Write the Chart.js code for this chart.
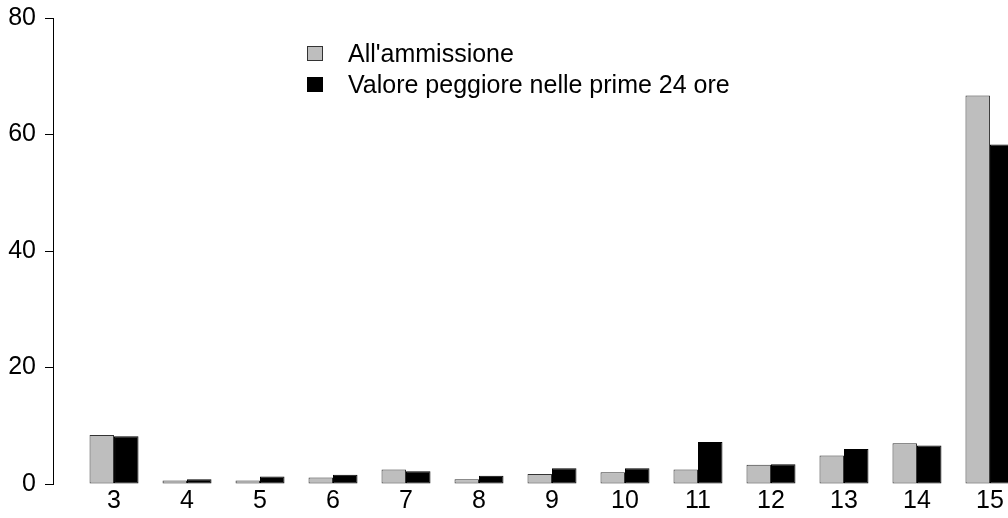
<!DOCTYPE html>
<html>
<head>
<meta charset="utf-8">
<script src="https://cdn.jsdelivr.net/npm/chart.js@4/dist/chart.umd.min.js"></script>
<style>
  html, body { margin: 0; padding: 0; background: #fff; overflow: hidden; }
  #wrap { position: relative; width: 1008px; height: 518px; }
  #legend { position: absolute; left: 307px; top: 38px; font-family: "Liberation Sans", Arial, sans-serif; font-size: 25px; color: #000; }
  .item { position: relative; height: 31px; line-height: 31px; white-space: nowrap; }
  .box { position: absolute; left: 0; top: 8px; width: 16px; height: 15px; box-sizing: border-box; }
  .txt { position: absolute; left: 41px; top: 0; }
</style>
</head>
<body>
<div id="wrap">
  <canvas id="barChart"></canvas>
  <div id="legend"></div>
</div>
<script>
// valori
const groupLabels = [3, 4, 5, 6, 7, 8, 9, 10, 11, 12, 13, 14, 15];
const seriesNames = ["All'ammissione", "Valore peggiore nelle prime 24 ore"];
const admissionValues = [8.4, 0.6, 0.6, 1.1, 2.5, 0.8, 1.7, 2.0, 2.5, 3.3, 4.9, 7.0, 66.7];
const worstValues = [8.2, 0.8, 1.3, 1.6, 2.2, 1.4, 2.7, 2.7, 7.2, 3.4, 6.0, 6.6, 58.3];
const yTicks = [0, 20, 40, 60, 80];

const fontFamily = '"Liberation Sans", Arial, sans-serif';

const toPoints = (vals) => vals.map((v, i) => ({ x: groupLabels[i], y: v }));

const datasets = [
    {
        label: seriesNames[0],
        data: toPoints(admissionValues),
        backgroundColor: '#bebebe',
        borderColor: '#333333',
        borderWidth: 1,
        borderSkipped: false
    },
    {
        label: seriesNames[1],
        data: toPoints(worstValues),
        backgroundColor: '#000000',
        borderColor: '#000000',
        borderWidth: 1,
        borderSkipped: false
    }
];

const ctx = document.getElementById('barChart').getContext('2d');

new Chart(ctx, {
    type: 'bar',
    data: { datasets: datasets },
    options: {
        responsive: true,
        maintainAspectRatio: false,
        animation: false,
        categoryPercentage: 0.671,
        barPercentage: 1,
        layout: { padding: { top: 18, left: 0, right: 0, bottom: 0 } },
        scales: {
            x: {
                type: 'linear',
                offset: false,
                min: 2.164,
                max: 15.247,
                grid: { display: false, drawTicks: false },
                border: { display: false },
                ticks: {
                    color: '#000',
                    font: { family: fontFamily, size: 25 },
                    padding: 2,
                    autoSkip: false,
                    maxRotation: 0
                },
                afterBuildTicks: (scale) => {
                    scale.ticks = groupLabels.map(v => ({ value: v }));
                },
                afterFit: (scale) => {
                    scale.height = 34;
                    scale.paddingLeft = 0;
                    scale.paddingRight = 0;
                }
            },
            y: {
                min: 0,
                max: 80,
                grid: { drawOnChartArea: false, drawTicks: true, tickLength: 8, tickColor: '#000' },
                border: { display: true, color: '#000', width: 1 },
                ticks: {
                    color: '#000',
                    font: { family: fontFamily, size: 25 },
                    padding: 9
                },
                afterBuildTicks: (scale) => {
                    scale.ticks = yTicks.map(v => ({ value: v }));
                },
                afterFit: (scale) => {
                    scale.width = 53;
                    scale.paddingTop = 0;
                    scale.paddingBottom = 0;
                }
            }
        },
        plugins: {
            legend: { display: false },
            tooltip: { enabled: false }
        }
    }
});

// legenda in HTML, costruita dai dataset
const legendEl = document.getElementById('legend');
datasets.forEach(ds => {
    const item = document.createElement('div');
    item.className = 'item';
    const box = document.createElement('span');
    box.className = 'box';
    box.style.background = ds.backgroundColor;
    box.style.border = '1px solid ' + ds.borderColor;
    const txt = document.createElement('span');
    txt.className = 'txt';
    txt.textContent = ds.label;
    item.appendChild(box);
    item.appendChild(txt);
    legendEl.appendChild(item);
});
</script>
</body>
</html>
